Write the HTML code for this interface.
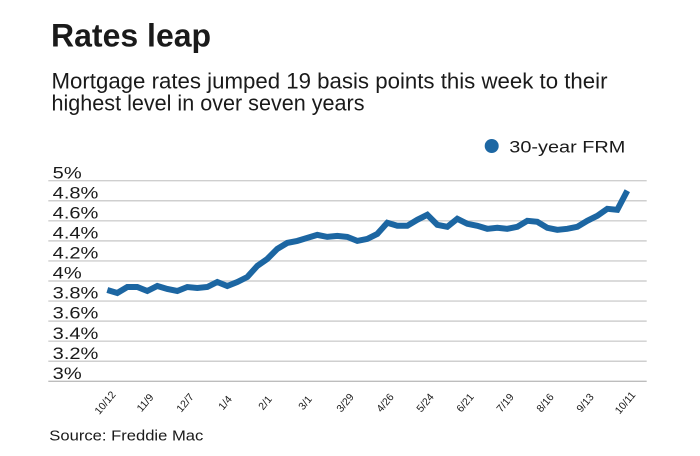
<!DOCTYPE html>
<html>
<head>
<meta charset="utf-8">
<style>
  html, body { margin: 0; padding: 0; background: #ffffff; }
  svg { display: block; }
  text { font-family: "Liberation Sans", "DejaVu Sans", sans-serif; fill: #1a1a1a; }
</style>
</head>
<body>
<svg width="700" height="456" viewBox="0 0 700 456" xmlns="http://www.w3.org/2000/svg">
  <rect width="700" height="456" fill="#ffffff"/>

  <!-- Title -->
  <text x="51" y="46.7" font-size="32" font-weight="bold" fill="#111">Rates leap</text>
  <!-- Subtitle -->
  <text x="51.5" y="88.3" font-size="22" textLength="556" lengthAdjust="spacingAndGlyphs">Mortgage rates jumped 19 basis points this week to their</text>
  <text x="51.5" y="110.5" font-size="22" textLength="313" lengthAdjust="spacingAndGlyphs">highest level in over seven years</text>

  <!-- Legend -->
  <circle cx="491.7" cy="146" r="7" fill="#1d67a3"/>
  <text x="509.3" y="152.7" font-size="17" textLength="116" lengthAdjust="spacingAndGlyphs">30-year FRM</text>

  <!-- Gridlines -->
  <g stroke="#cfcfcf" stroke-width="1.4">
    <line x1="48.3" y1="180.7" x2="646.7" y2="180.7"/>
    <line x1="48.3" y1="200.76" x2="646.7" y2="200.76"/>
    <line x1="48.3" y1="220.82" x2="646.7" y2="220.82"/>
    <line x1="48.3" y1="240.88" x2="646.7" y2="240.88"/>
    <line x1="48.3" y1="260.94" x2="646.7" y2="260.94"/>
    <line x1="48.3" y1="281.0" x2="646.7" y2="281.0"/>
    <line x1="48.3" y1="301.06" x2="646.7" y2="301.06"/>
    <line x1="48.3" y1="321.12" x2="646.7" y2="321.12"/>
    <line x1="48.3" y1="341.18" x2="646.7" y2="341.18"/>
    <line x1="48.3" y1="361.24" x2="646.7" y2="361.24"/>
  </g>
  <line x1="48.3" y1="381.3" x2="646.7" y2="381.3" stroke="#bdbdbd" stroke-width="1.4"/>

  <!-- Y labels -->
  <g font-size="16.5">
    <text x="52.7" y="178.3" textLength="29" lengthAdjust="spacingAndGlyphs">5%</text>
    <text x="52.7" y="198.4" textLength="45.7" lengthAdjust="spacingAndGlyphs">4.8%</text>
    <text x="52.7" y="218.4" textLength="45.7" lengthAdjust="spacingAndGlyphs">4.6%</text>
    <text x="52.7" y="238.5" textLength="45.7" lengthAdjust="spacingAndGlyphs">4.4%</text>
    <text x="52.7" y="258.5" textLength="45.7" lengthAdjust="spacingAndGlyphs">4.2%</text>
    <text x="52.7" y="278.6" textLength="29" lengthAdjust="spacingAndGlyphs">4%</text>
    <text x="52.7" y="298.7" textLength="45.7" lengthAdjust="spacingAndGlyphs">3.8%</text>
    <text x="52.7" y="318.7" textLength="45.7" lengthAdjust="spacingAndGlyphs">3.6%</text>
    <text x="52.7" y="338.8" textLength="45.7" lengthAdjust="spacingAndGlyphs">3.4%</text>
    <text x="52.7" y="358.8" textLength="45.7" lengthAdjust="spacingAndGlyphs">3.2%</text>
    <text x="52.7" y="378.9" textLength="29" lengthAdjust="spacingAndGlyphs">3%</text>
  </g>

  <!-- Data line -->
  <polyline fill="none" stroke="#1c66a2" stroke-width="6" stroke-linejoin="miter" stroke-miterlimit="4"
    points="107.3,290.0 117.3,293.0 127.3,287.0 137.3,287.0 147.3,291.0 157.3,286.0 167.3,289.0 177.3,291.0 187.3,287.0 197.3,288.0 207.3,287.0 217.3,282.0 227.3,286.0 237.3,282.0 247.3,277.0 257.3,265.9 267.3,258.9 277.3,248.9 287.3,242.9 297.3,240.9 307.3,237.9 317.3,234.9 327.3,236.9 337.3,235.9 347.3,236.9 357.3,240.9 367.3,238.9 377.3,233.9 387.3,222.8 397.3,225.8 407.3,225.8 417.3,219.8 427.3,214.8 437.3,224.8 447.3,226.8 457.3,218.8 467.3,223.8 477.3,225.8 487.3,228.8 497.3,227.8 507.3,228.8 517.3,226.8 527.3,220.8 537.3,221.8 547.3,227.8 557.3,229.8 567.3,228.8 577.3,226.8 587.3,220.8 597.3,215.8 607.3,208.8 617.3,209.8 627.3,190.7"/>

  <!-- X labels -->
  <g font-size="10.5" text-anchor="middle" style="fill:#222">
    <text x="107.8" y="405" transform="rotate(-50 107.8 405)">10/12</text>
    <text x="147.8" y="405" transform="rotate(-50 147.8 405)">11/9</text>
    <text x="187.8" y="405" transform="rotate(-50 187.8 405)">12/7</text>
    <text x="227.8" y="405" transform="rotate(-50 227.8 405)">1/4</text>
    <text x="267.8" y="405" transform="rotate(-50 267.8 405)">2/1</text>
    <text x="307.8" y="405" transform="rotate(-50 307.8 405)">3/1</text>
    <text x="347.8" y="405" transform="rotate(-50 347.8 405)">3/29</text>
    <text x="387.8" y="405" transform="rotate(-50 387.8 405)">4/26</text>
    <text x="427.8" y="405" transform="rotate(-50 427.8 405)">5/24</text>
    <text x="467.8" y="405" transform="rotate(-50 467.8 405)">6/21</text>
    <text x="507.8" y="405" transform="rotate(-50 507.8 405)">7/19</text>
    <text x="547.8" y="405" transform="rotate(-50 547.8 405)">8/16</text>
    <text x="587.8" y="405" transform="rotate(-50 587.8 405)">9/13</text>
    <text x="627.8" y="405" transform="rotate(-50 627.8 405)">10/11</text>
  </g>

  <!-- Source -->
  <text x="49.3" y="440.7" font-size="15" textLength="154" lengthAdjust="spacingAndGlyphs">Source: Freddie Mac</text>
</svg>
</body>
</html>
